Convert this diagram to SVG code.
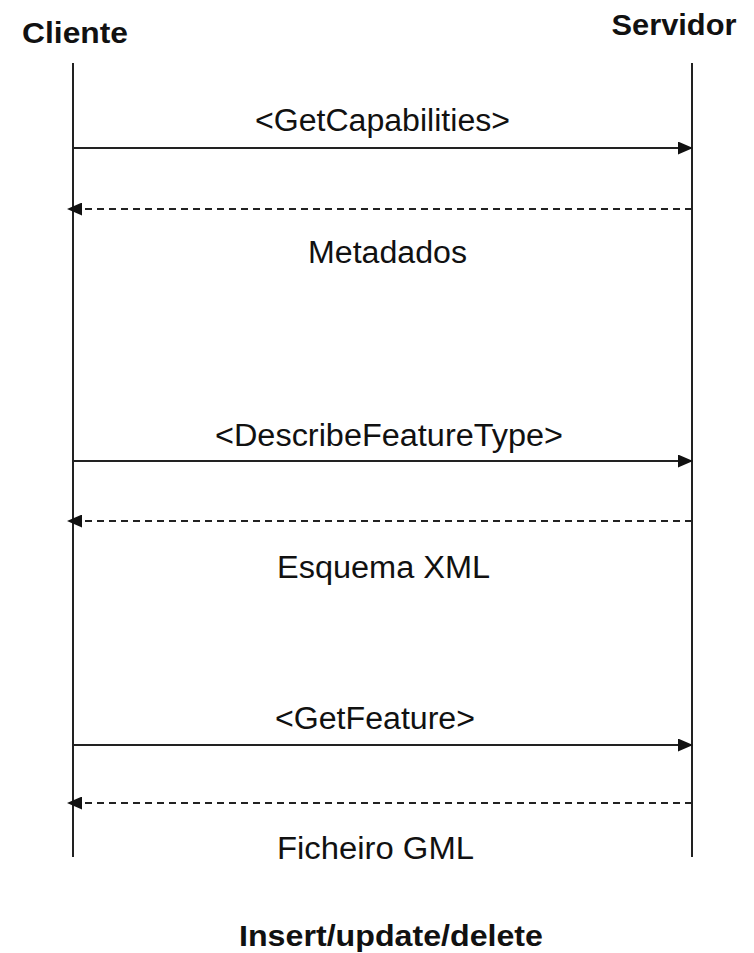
<svg xmlns="http://www.w3.org/2000/svg" width="754" height="953" viewBox="0 0 754 953">
<style>
.hdr{font-family:"Liberation Sans",Arial,sans-serif;font-weight:bold;font-size:29px;fill:#111;text-anchor:middle}
.msg{font-family:"Liberation Sans",Arial,sans-serif;font-size:31px;fill:#111;text-anchor:middle}
.life{stroke:#222;stroke-width:2;fill:none}
.req{stroke:#222;stroke-width:2;fill:none}
.resp{stroke:#222;stroke-width:2;fill:none;stroke-dasharray:7,5}
</style>
<defs>
<marker id="ah" markerWidth="15" markerHeight="13" refX="14" refY="6.5" orient="auto" markerUnits="userSpaceOnUse">
<path d="M0,0 L15,6.5 L0,13 Z" fill="#111"/>
</marker>
</defs>
<rect width="754" height="953" fill="#fff"/>
<g id="cliente">
<text class="hdr" x="75" y="43" textLength="106" lengthAdjust="spacingAndGlyphs">Cliente</text>
<line class="life" x1="73" y1="63" x2="73" y2="857"/>
</g>
<g id="servidor">
<text class="hdr" x="674" y="35" textLength="125" lengthAdjust="spacingAndGlyphs">Servidor</text>
<line class="life" x1="692" y1="63" x2="692" y2="857"/>
</g>
<g id="connectors">
<line class="req" x1="73" y1="148" x2="692" y2="148" marker-end="url(#ah)"/>
<line class="resp" x1="692" y1="209" x2="68" y2="209" marker-end="url(#ah)"/>
<line class="req" x1="73" y1="461" x2="692" y2="461" marker-end="url(#ah)"/>
<line class="resp" x1="692" y1="521" x2="68" y2="521" marker-end="url(#ah)"/>
<line class="req" x1="73" y1="745" x2="692" y2="745" marker-end="url(#ah)"/>
<line class="resp" x1="692" y1="803" x2="68" y2="803" marker-end="url(#ah)"/>
</g>
<g id="labels">
<text class="msg" x="382.5" y="131" textLength="255" lengthAdjust="spacingAndGlyphs">&lt;GetCapabilities&gt;</text>
<text class="msg" x="387.5" y="263" textLength="159" lengthAdjust="spacingAndGlyphs">Metadados</text>
<text class="msg" x="389" y="446" textLength="348" lengthAdjust="spacingAndGlyphs">&lt;DescribeFeatureType&gt;</text>
<text class="msg" x="383.5" y="578" textLength="213" lengthAdjust="spacingAndGlyphs">Esquema XML</text>
<text class="msg" x="375" y="729" textLength="200" lengthAdjust="spacingAndGlyphs">&lt;GetFeature&gt;</text>
<text class="msg" x="375.5" y="859" textLength="197" lengthAdjust="spacingAndGlyphs">Ficheiro GML</text>
</g>
<g id="footer">
<text class="hdr" x="391" y="946" textLength="304" lengthAdjust="spacingAndGlyphs">Insert/update/delete</text>
</g>
</svg>
